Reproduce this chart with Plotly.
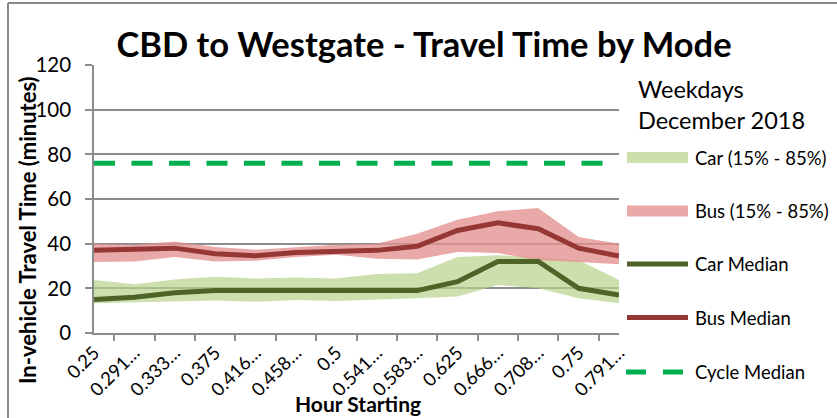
import plotly.graph_objects as go

# Hour-starting categories (fraction of a day) and their truncated tick labels
hours = ["0.25", "0.2917", "0.3333", "0.375", "0.4167", "0.4583", "0.5",
         "0.5417", "0.5833", "0.625", "0.6667", "0.7083", "0.75", "0.7917"]
tick_labels = ["0.25", "0.291…", "0.333…", "0.375", "0.416…", "0.458…", "0.5",
               "0.541…", "0.583…", "0.625", "0.666…", "0.708…", "0.75", "0.791…"]

# In-vehicle travel time (minutes)
car_p15 = [13.3, 13.6, 14.0, 14.5, 14.0, 14.8, 14.3, 14.8, 15.6, 16.3, 21.5, 20.0, 15.6, 13.3]
car_p85 = [23.7, 21.8, 24.0, 25.2, 24.4, 24.9, 24.4, 26.4, 26.7, 34.0, 34.8, 34.0, 32.6, 23.7]
car_median = [15, 16, 18, 19, 19, 19, 19, 19, 19, 23, 32, 32, 20, 17]

bus_p15 = [31.8, 32.0, 34.0, 32.0, 32.3, 34.0, 35.0, 33.3, 32.9, 36.3, 35.8, 32.6, 31.8, 30.8]
bus_p85 = [40.0, 39.5, 41.0, 38.5, 37.3, 38.5, 39.5, 40.0, 44.4, 50.7, 54.5, 56.0, 43.0, 40.0]
bus_median = [37, 37.3, 38, 35.5, 34.6, 36, 36.6, 37, 38.8, 45.9, 49.3, 46.7, 38, 34.5]

cycle_median = [76] * len(hours)

CAR_BAND = "rgba(184,209,138,0.70)"
BUS_BAND = "rgba(228,145,145,0.78)"
CAR_LINE = "#4f6228"
BUS_LINE = "#953735"
CYCLE_LINE = "#00b050"
GRID = "#8c8c8c"
FONT = "Lato"

# Plot-area geometry in pixels (used to place the free-standing labels)
W, H = 837, 418
L, R, T, B = 94, 619, 65, 333


def px(x):
    return (x - L) / (R - L)


def py(y):
    return (B - y) / (B - T)


fig = go.Figure()

# Percentile bands: lower bound (invisible) followed by upper bound filled down to it
fig.add_trace(go.Scatter(x=hours, y=car_p15, mode="lines", line=dict(width=0),
                         showlegend=False, hoverinfo="skip"))
fig.add_trace(go.Scatter(x=hours, y=car_p85, mode="lines", line=dict(width=0),
                         fill="tonexty", fillcolor=CAR_BAND, name="Car (15% - 85%)",
                         showlegend=False))
fig.add_trace(go.Scatter(x=hours, y=bus_p15, mode="lines", line=dict(width=0),
                         showlegend=False, hoverinfo="skip"))
fig.add_trace(go.Scatter(x=hours, y=bus_p85, mode="lines", line=dict(width=0),
                         fill="tonexty", fillcolor=BUS_BAND, name="Bus (15% - 85%)",
                         showlegend=False))

# Median lines
fig.add_trace(go.Scatter(x=hours, y=car_median, mode="lines", name="Car Median",
                         line=dict(color=CAR_LINE, width=5), showlegend=False))
fig.add_trace(go.Scatter(x=hours, y=bus_median, mode="lines", name="Bus Median",
                         line=dict(color=BUS_LINE, width=5), showlegend=False))
fig.add_trace(go.Scatter(x=hours, y=cycle_median, mode="lines", name="Cycle Median",
                         line=dict(color=CYCLE_LINE, width=5, dash="21px,16.5px"),
                         showlegend=False))

shapes = []
annotations = []

# Outer chart frame (top and left edges)
shapes.append(dict(type="line", xref="paper", yref="paper",
                   x0=px(8), x1=px(W + 5), y0=py(3), y1=py(3),
                   line=dict(color="#8a8a8a", width=2)))
shapes.append(dict(type="line", xref="paper", yref="paper",
                   x0=px(8), x1=px(8), y0=py(3), y1=py(H + 5),
                   line=dict(color="#8a8a8a", width=2)))

# Hand-placed legend
legend_items = [
    ("Car (15% - 85%)", "band", CAR_BAND, 157.5),
    ("Bus (15% - 85%)", "band", BUS_BAND, 211),
    ("Car Median", "line", CAR_LINE, 264),
    ("Bus Median", "line", BUS_LINE, 317.5),
    ("Cycle Median", "dash", CYCLE_LINE, 372),
]
for text, kind, color, yc in legend_items:
    if kind == "band":
        shapes.append(dict(type="rect", xref="paper", yref="paper",
                           x0=px(627), x1=px(688), y0=py(yc - 5.5), y1=py(yc + 5.5),
                           fillcolor=color, line=dict(width=0)))
    elif kind == "line":
        shapes.append(dict(type="line", xref="paper", yref="paper",
                           x0=px(627), x1=px(688), y0=py(yc), y1=py(yc),
                           line=dict(color=color, width=5)))
    else:
        for x0 in (626, 663):
            shapes.append(dict(type="line", xref="paper", yref="paper",
                               x0=px(x0), x1=px(x0 + 20), y0=py(yc), y1=py(yc),
                               line=dict(color=color, width=5)))
    annotations.append(dict(text=text, xref="paper", yref="paper",
                            x=px(693), y=py(yc), xanchor="left", yanchor="middle",
                            showarrow=False, font=dict(family=FONT, size=18.5, color="#000")))

annotations.append(dict(text="Weekdays<br>December 2018", xref="paper", yref="paper",
                        x=px(636), y=py(104), xanchor="left", yanchor="middle", align="left",
                        showarrow=False, font=dict(family=FONT, size=23.5, color="#000")))

# Axis titles
annotations.append(dict(text="<b>In-vehicle Travel Time (minutes)</b>", xref="paper",
                        yref="paper", x=px(27), y=py(230), xanchor="center",
                        yanchor="middle", textangle=-90, showarrow=False,
                        font=dict(family=FONT, size=22, color="#000")))
annotations.append(dict(text="<b>Hour Starting</b>", xref="paper", yref="paper",
                        x=px(358), y=py(403), xanchor="center", yanchor="middle",
                        showarrow=False, font=dict(family=FONT, size=21, color="#000")))

fig.update_layout(
    width=W, height=H,
    margin=dict(l=L, r=W - R, t=T, b=H - B, pad=0),
    paper_bgcolor="white", plot_bgcolor="white",
    title=dict(text="<b>CBD to Westgate - Travel Time by Mode</b>",
               x=424 / W, xanchor="center", y=1 - 45 / H, yanchor="middle",
               font=dict(family=FONT, size=34.5, color="#000")),
    font=dict(family=FONT, color="#000"),
    shapes=shapes,
    annotations=annotations,
    showlegend=False,
)

fig.update_xaxes(
    type="category", tickmode="array", tickvals=hours, ticktext=tick_labels,
    tickangle=-45, tickfont=dict(family=FONT, size=18.5, color="#000"),
    tickson="boundaries", ticks="outside", ticklen=6, tickcolor=GRID, tickwidth=1.5,
    showline=True, linecolor=GRID, linewidth=1.5, showgrid=False, zeroline=False,
)
fig.update_yaxes(
    range=[0, 120], tickvals=[0, 20, 40, 60, 80, 100, 120],
    tickfont=dict(family=FONT, size=20.5, color="#000"),
    ticks="outside", ticklen=7, tickcolor=GRID, tickwidth=1.5, ticklabelstandoff=10,
    showline=True, linecolor=GRID, linewidth=1.5,
    showgrid=True, gridcolor=GRID, gridwidth=1.5, zeroline=False,
)

fig.write_html("out.html")
